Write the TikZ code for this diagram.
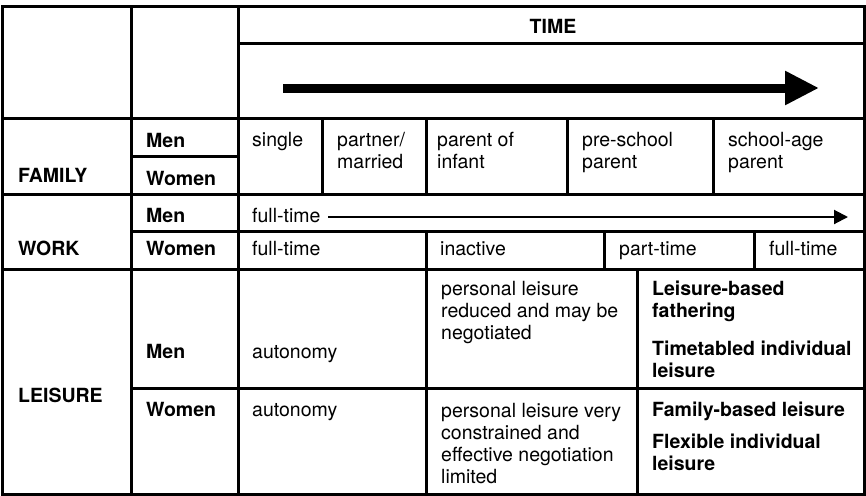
\documentclass[tikz,border=0pt]{standalone}
\usepackage{fontspec}
\setmainfont{TeX Gyre Heros}
\usetikzlibrary{arrows.meta}

\tikzset{rule/.style={line width=3pt},
         cell/.style={anchor=base west,inner sep=0pt,align=left,
                      font=\fontsize{19.5}{22}\selectfont},
         lab/.style={cell,font=\fontsize{19.5}{22}\selectfont\bfseries}}

\begin{document}
\begin{tikzpicture}[x=1pt,y=-1pt]
        \useasboundingbox (0,0) rectangle (866,495);
        % draw the grid
        \draw[rule] (2,7) rectangle (864,494);
        \draw[rule] (131,7) -- (131,494);
        \draw[rule] (238,7) -- (238,494);
        \draw[rule] (238,44) -- (864,44);
        \draw[rule] (2,118) -- (864,118);
        \draw[rule] (131,156) -- (238,156);
        \draw[rule] (2,194) -- (864,194);
        \draw[rule] (131,231) -- (864,231);
        \draw[rule] (2,269) -- (864,269);
        \draw[rule] (131,388) -- (864,388);
        \foreach \x in {322,426,567,713}
            \draw[rule] (\x,118) -- (\x,194);
        \draw[rule] (426,231) -- (426,494);
        \draw[rule] (604,231) -- (604,269);
        \draw[rule] (754,231) -- (754,269);
        \draw[rule] (637,269) -- (637,494);
        % the time arrows
        \coordinate (tstart) at (283,88);
        \coordinate (tend) at (819,88);
        \draw[line width=9pt,-{Triangle[length=34pt,width=32pt]}] (tstart) -- (tend);
        % row headers (multi-line nodes sit on their last baseline)
        \node[lab,anchor=base] (time) at (553,34) {TIME};
        \node[lab] (family) at (18,182) {FAMILY};
        \node[lab] (work) at (18,255) {WORK};
        \node[lab] (leisure) at (18,402) {LEISURE};
        \node[lab] (fmen) at (146,147) {Men};
        \node[lab] (fwomen) at (146,185) {Women};
        \node[lab] (wmen) at (146,222) {Men};
        \node[lab] (wwomen) at (146,255) {Women};
        \node[lab] (lmen) at (146,358) {Men};
        \node[lab] (lwomen) at (146,416) {Women};
        % family stages
        \node[cell] (single) at (252,146) {single};
        \node[cell] (partner) at (337,168) {partner/\\married};
        \node[cell] (infant) at (437,168) {parent of\\infant};
        \node[cell] (preschool) at (582,168) {pre-school\\parent};
        \node[cell] (schoolage) at (728,168) {school-age\\parent};
        % work
        \node[cell] (mfull) at (252,222) {full-time};
        \coordinate (mstart) at (328,217);
        \coordinate (mend) at (848,217);
        \draw[line width=2pt,-{Triangle[length=14pt,width=14pt]}] (mstart) -- (mend);
        \node[cell] (wfull) at (252,255) {full-time};
        \node[cell] (winactive) at (440,255) {inactive};
        \node[cell] (wpart) at (619,255) {part-time};
        \node[cell] (wfulltwo) at (769,255) {full-time};
        % leisure
        \node[cell] (mauto) at (252,358) {autonomy};
        \node[cell] (wauto) at (252,416) {autonomy};
        \node[cell] (mreduced) at (441,339) {personal leisure\\reduced and may be\\negotiated};
        \node[cell] (wconstr) at (441,483) {personal leisure very\\constrained and\\effective negotiation\\limited};
        \node[lab] (fathering) at (652,317) {Leisure-based\\fathering};
        \node[lab] (timetabled) at (652,377) {Timetabled individual\\leisure};
        \node[lab] (familybased) at (652,416) {Family-based leisure};
        \node[lab] (flexible) at (652,470) {Flexible individual\\leisure};
    \end{tikzpicture}
\end{document}
